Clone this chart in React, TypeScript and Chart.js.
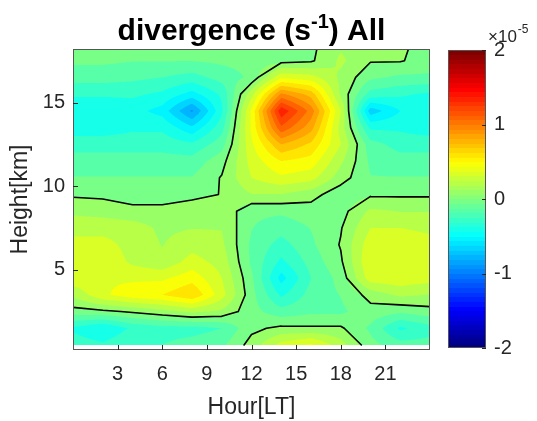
import React, { useEffect, useRef } from "react";
import { Chart, registerables } from "chart.js";

Chart.register(...registerables);

const FONT = "'Liberation Sans', Arial, Helvetica, sans-serif";

// Local time (h) of each grid column
const hours = [0, 2, 4, 6, 8, 10, 12, 14, 16, 18, 20, 22, 24];
// Height (km) of each grid row, top row first
const heights = [18.5, 17.5, 16.5, 15.5, 14.5, 13.5, 12.5, 11.5, 10.5, 9.5, 8.5, 7.5, 6.5, 5.5, 4.5, 3.5, 2.5, 1.5, 0.5];
// Divergence in units of 1e-5 s^-1, one row per height above, one column per hour
const divergence = [
  [-0.10, -0.10, -0.10, -0.10, -0.10, -0.10, -0.08, -0.06, -0.03, 0.10, 0.10, 0.03, -0.06],
  [-0.10, -0.10, -0.12, -0.12, -0.12, -0.10, -0.08, -0.05, -0.02, 0.15, 0.01, 0.01, -0.06],
  [-0.20, -0.20, -0.22, -0.25, -0.30, -0.20, -0.10, 0.35, 0.30, 0.10, -0.10, -0.15, -0.15],
  [-0.35, -0.35, -0.35, -0.40, -0.55, -0.35, 0.20, 0.90, 0.70, 0.10, -0.30, -0.35, -0.40],
  [-0.50, -0.50, -0.45, -0.55, -0.90, -0.40, 0.40, 1.35, 0.95, 0.25, -0.70, -0.50, -0.50],
  [-0.45, -0.45, -0.40, -0.40, -0.60, -0.30, 0.40, 1.10, 0.80, 0.20, -0.40, -0.40, -0.45],
  [-0.30, -0.30, -0.30, -0.30, -0.35, -0.18, 0.35, 0.75, 0.60, 0.25, -0.20, -0.30, -0.30],
  [-0.20, -0.20, -0.20, -0.20, -0.20, -0.05, 0.30, 0.50, 0.45, 0.15, -0.15, -0.20, -0.20],
  [-0.12, -0.12, -0.12, -0.12, -0.12, 0.01, 0.25, 0.35, 0.30, 0.06, -0.12, -0.12, -0.12],
  [-0.02, -0.03, -0.08, -0.08, -0.04, 0.005, 0.12, 0.12, 0.05, -0.08, -0.02, -0.02, -0.02],
  [0.10, 0.08, 0.05, 0.05, 0.08, 0.10, -0.10, -0.10, -0.06, -0.05, 0.15, 0.12, 0.12],
  [0.20, 0.20, 0.18, 0.10, 0.12, 0.12, -0.12, -0.20, -0.12, -0.01, 0.25, 0.25, 0.22],
  [0.30, 0.30, 0.20, 0.12, 0.20, 0.15, -0.15, -0.30, -0.15, 0.01, 0.33, 0.34, 0.30],
  [0.35, 0.36, 0.22, 0.15, 0.30, 0.20, -0.15, -0.40, -0.20, -0.02, 0.37, 0.36, 0.34],
  [0.34, 0.36, 0.35, 0.35, 0.45, 0.25, -0.10, -0.55, -0.25, -0.08, 0.32, 0.34, 0.30],
  [0.15, 0.35, 0.45, 0.50, 0.62, 0.30, -0.08, -0.40, -0.20, -0.12, 0.05, 0.15, 0.12],
  [-0.05, -0.03, 0.02, 0.08, 0.15, 0.10, -0.08, -0.20, -0.15, -0.15, -0.05, -0.10, -0.05],
  [-0.40, -0.50, -0.35, -0.30, -0.30, -0.25, -0.03, 0.03, 0.02, 0.02, -0.15, -0.40, -0.30],
  [-0.30, -0.35, -0.25, -0.25, -0.20, -0.15, 0.05, 0.30, 0.40, 0.18, -0.08, -0.20, -0.20],
];

const hourTicks = [3, 6, 9, 12, 15, 18, 21];
const heightTicks = [5, 10, 15];
const colorTicks = [-2, -1, 0, 1, 2];
const colorMin = -2;
const colorMax = 2;
const levelStep = 0.125;
const colorCount = 64;

// ascending-height views
const zAsc = heights.slice().reverse();
const vAsc = divergence.slice().reverse();

function jet(k: number): [number, number, number] {
  const t = k / (colorCount - 1);
  const f = (x: number) => Math.max(0, Math.min(1, 1.5 - Math.abs(x)));
  return [Math.round(f(4 * t - 3) * 255), Math.round(f(4 * t - 2) * 255), Math.round(f(4 * t - 1) * 255)];
}
const jetTable = Array.from({ length: colorCount }, (_, k) => jet(k));

function findCell(arr: number[], v: number) {
  let i = 0;
  while (i < arr.length - 2 && arr[i + 1] <= v) i++;
  return i;
}

function valueAt(h: number, z: number) {
  const i = findCell(hours, h);
  const j = findCell(zAsc, z);
  const tx = Math.max(0, Math.min(1, (h - hours[i]) / (hours[i + 1] - hours[i])));
  const ty = Math.max(0, Math.min(1, (z - zAsc[j]) / (zAsc[j + 1] - zAsc[j])));
  const a = vAsc[j][i], b = vAsc[j][i + 1], c = vAsc[j + 1][i + 1], d = vAsc[j + 1][i];
  return a * (1 - tx) * (1 - ty) + b * tx * (1 - ty) + c * tx * ty + d * (1 - tx) * ty;
}

function colorIndexFor(v: number) {
  const mid = (Math.floor(v / levelStep) + 0.5) * levelStep;
  const idx = Math.floor(((mid - colorMin) / (colorMax - colorMin)) * colorCount);
  return Math.max(0, Math.min(colorCount - 1, idx));
}

function zeroSegments() {
  const segs: [number, number, number, number][] = [];
  for (let j = 0; j < zAsc.length - 1; j++) {
    for (let i = 0; i < hours.length - 1; i++) {
      const pa: [number, number] = [hours[i], zAsc[j]];
      const pb: [number, number] = [hours[i + 1], zAsc[j]];
      const pc: [number, number] = [hours[i + 1], zAsc[j + 1]];
      const pd: [number, number] = [hours[i], zAsc[j + 1]];
      const a = vAsc[j][i], b = vAsc[j][i + 1], c = vAsc[j + 1][i + 1], d = vAsc[j + 1][i];
      const cross = (v1: number, v2: number, p1: [number, number], p2: [number, number]) => {
        if (v1 > 0 === v2 > 0) return null;
        const t = v1 / (v1 - v2);
        return [p1[0] + t * (p2[0] - p1[0]), p1[1] + t * (p2[1] - p1[1])] as [number, number];
      };
      const eb = cross(a, b, pa, pb);
      const er = cross(b, c, pb, pc);
      const et = cross(d, c, pd, pc);
      const el = cross(a, d, pa, pd);
      const pts = [eb, er, et, el].filter((p) => p) as [number, number][];
      if (pts.length === 2) {
        segs.push([pts[0][0], pts[0][1], pts[1][0], pts[1][1]]);
      } else if (pts.length === 4) {
        const center = (a + b + c + d) / 4;
        if (center > 0 === a > 0) {
          segs.push([eb![0], eb![1], er![0], er![1]]);
          segs.push([et![0], et![1], el![0], el![1]]);
        } else {
          segs.push([eb![0], eb![1], el![0], el![1]]);
          segs.push([er![0], er![1], et![0], et![1]]);
        }
      }
    }
  }
  return segs;
}

const contourPlugin = {
  id: "contourFill",
  beforeDatasetsDraw(chart: any) {
    const { ctx, chartArea: area } = chart;
    const xs = chart.scales.x;
    const ys = chart.scales.y;
    const left = Math.round(area.left), top = Math.round(area.top);
    const w = Math.round(area.right) - left;
    const hgt = Math.round(area.bottom) - top;
    const off = document.createElement("canvas");
    off.width = w;
    off.height = hgt;
    const octx = off.getContext("2d")!;
    const img = octx.createImageData(w, hgt);
    const zMin = zAsc[0], zMax = zAsc[zAsc.length - 1];
    const ss = [0.25, 0.75];
    for (let py = 0; py < hgt; py++) {
      for (let px = 0; px < w; px++) {
        let r = 0, g = 0, bl = 0, al = 0;
        for (const sy of ss) {
          const z = ys.getValueForPixel(top + py + sy);
          for (const sx of ss) {
            if (z < zMin || z > zMax) continue;
            const h = xs.getValueForPixel(left + px + sx);
            const col = jetTable[colorIndexFor(valueAt(h, z))];
            r += col[0]; g += col[1]; bl += col[2]; al += 1;
          }
        }
        const o = (py * w + px) * 4;
        if (al > 0) {
          const wgt = al / 4;
          img.data[o] = Math.round((r / al) * wgt + 255 * (1 - wgt));
          img.data[o + 1] = Math.round((g / al) * wgt + 255 * (1 - wgt));
          img.data[o + 2] = Math.round((bl / al) * wgt + 255 * (1 - wgt));
          img.data[o + 3] = 255;
        } else {
          img.data[o + 3] = 0;
        }
      }
    }
    octx.putImageData(img, 0, 0);
    ctx.drawImage(off, left, top);

    // zero contour
    ctx.save();
    ctx.beginPath();
    ctx.rect(area.left, area.top, area.right - area.left, area.bottom - area.top);
    ctx.clip();
    ctx.strokeStyle = "#000";
    ctx.lineWidth = 1.6;
    ctx.lineCap = "round";
    ctx.lineJoin = "round";
    ctx.beginPath();
    for (const s of zeroSegments()) {
      ctx.moveTo(xs.getPixelForValue(s[0]), ys.getPixelForValue(s[1]));
      ctx.lineTo(xs.getPixelForValue(s[2]), ys.getPixelForValue(s[3]));
    }
    ctx.stroke();
    ctx.restore();
  },
  afterDraw(chart: any) {
    const { ctx, chartArea: area } = chart;
    const xs = chart.scales.x;
    const ys = chart.scales.y;
    ctx.save();
    ctx.strokeStyle = "#555";
    ctx.lineWidth = 1;
    ctx.strokeRect(Math.round(area.left) + 0.5, Math.round(area.top) + 0.5, Math.round(area.right - area.left) - 1, Math.round(area.bottom - area.top) - 1);
    ctx.strokeStyle = "#262626";
    ctx.beginPath();
    for (const v of hourTicks) {
      const x = Math.round(xs.getPixelForValue(v)) + 0.5;
      ctx.moveTo(x, area.bottom);
      ctx.lineTo(x, area.bottom - 5);
    }
    for (const v of heightTicks) {
      const y = Math.round(ys.getPixelForValue(v)) + 0.5;
      ctx.moveTo(area.left, y);
      ctx.lineTo(area.left + 5, y);
    }
    ctx.stroke();
    // title with superscript
    const big = `bold 30px ${FONT}`;
    const small = `bold 20px ${FONT}`;
    const parts: [string, string, number][] = [
      ["divergence (s", big, 0],
      ["-1", small, -12],
      [") All", big, 0],
    ];
    let total = 0;
    for (const p of parts) {
      ctx.font = p[1];
      total += ctx.measureText(p[0]).width;
    }
    let x = (area.left + area.right) / 2 - total / 2;
    ctx.fillStyle = "#000";
    ctx.textBaseline = "alphabetic";
    ctx.textAlign = "left";
    for (const p of parts) {
      ctx.font = p[1];
      ctx.fillText(p[0], x, 40 + p[2]);
      x += ctx.measureText(p[0]).width;
    }
    ctx.restore();
  },
};

const colorbarPlugin = {
  id: "colorbarFill",
  beforeDatasetsDraw(chart: any) {
    const { ctx, chartArea: area } = chart;
    const ys = chart.scales.y;
    for (let k = 0; k < colorCount; k++) {
      const v0 = colorMin + (k * (colorMax - colorMin)) / colorCount;
      const v1 = colorMin + ((k + 1) * (colorMax - colorMin)) / colorCount;
      const y0 = ys.getPixelForValue(v0);
      const y1 = ys.getPixelForValue(v1);
      const c = jetTable[k];
      ctx.fillStyle = `rgb(${c[0]},${c[1]},${c[2]})`;
      ctx.fillRect(area.left, Math.floor(y1), area.right - area.left, Math.ceil(y0) - Math.floor(y1));
    }
  },
  afterDraw(chart: any) {
    const { ctx, chartArea: area } = chart;
    const ys = chart.scales.y;
    ctx.save();
    ctx.strokeStyle = "#555";
    ctx.lineWidth = 1;
    ctx.strokeRect(Math.round(area.left) + 0.5, Math.round(area.top) + 0.5, Math.round(area.right - area.left) - 1, Math.round(area.bottom - area.top) - 1);
    ctx.strokeStyle = "#262626";
    ctx.beginPath();
    for (const v of colorTicks) {
      const y = Math.round(ys.getPixelForValue(v)) + 0.5;
      ctx.moveTo(area.right, y);
      ctx.lineTo(area.right - 4, y);
    }
    ctx.stroke();
    // exponent label
    ctx.fillStyle = "#262626";
    ctx.textBaseline = "alphabetic";
    ctx.textAlign = "left";
    ctx.font = `17px ${FONT}`;
    const base = "\u00d710";
    const x0 = area.right + 2;
    ctx.fillText(base, x0, 42);
    const bw = ctx.measureText(base).width;
    ctx.font = `12px ${FONT}`;
    ctx.fillText("-5", x0 + bw + 1, 33);
    ctx.restore();
  },
};

export default function App() {
  const mainRef = useRef<HTMLCanvasElement>(null);
  const cbRef = useRef<HTMLCanvasElement>(null);

  useEffect(() => {
    const tickFont = { family: FONT, size: 20 };
    const main = new Chart(mainRef.current!, {
      type: "scatter",
      data: { datasets: [{ data: [], pointRadius: 0 }] },
      options: {
        animation: false,
        responsive: false,
        devicePixelRatio: 1,
        layout: { padding: { top: 49, right: 10, left: 0, bottom: 0 } },
        plugins: { legend: { display: false }, tooltip: { enabled: false }, title: { display: false } },
        scales: {
          x: {
            type: "linear",
            position: "bottom",
            min: 0,
            max: 24,
            grid: { display: false, drawTicks: false, tickLength: 0 },
            border: { display: false },
            ticks: { font: tickFont, color: "#262626", padding: 12, maxRotation: 0, autoSkip: false },
            title: { display: true, text: "Hour[LT]", font: { family: FONT, size: 23 }, color: "#262626", padding: { top: 0, bottom: 0 } },
            afterBuildTicks: (axis: any) => {
              axis.ticks = hourTicks.map((v) => ({ value: v }));
            },
            afterFit: (axis: any) => {
              axis.height = 71;
            },
          },
          y: {
            type: "linear",
            position: "left",
            min: 0.2,
            max: 18.2,
            grid: { display: false, drawTicks: false, tickLength: 0 },
            border: { display: false },
            ticks: { font: tickFont, color: "#262626", padding: 8, autoSkip: false },
            title: { display: true, text: "Height[km]", font: { family: FONT, size: 23 }, color: "#262626", padding: { top: 7, bottom: 0 } },
            afterBuildTicks: (axis: any) => {
              axis.ticks = heightTicks.map((v) => ({ value: v }));
            },
            afterFit: (axis: any) => {
              axis.width = 73;
            },
          },
        },
      },
      plugins: [contourPlugin],
    } as any);

    const cb = new Chart(cbRef.current!, {
      type: "scatter",
      data: { datasets: [{ data: [], pointRadius: 0 }] },
      options: {
        animation: false,
        responsive: false,
        devicePixelRatio: 1,
        layout: { padding: { top: 50, right: 0, left: 8, bottom: 73 } },
        plugins: { legend: { display: false }, tooltip: { enabled: false } },
        scales: {
          x: { type: "linear", display: false, min: 0, max: 1 },
          y: {
            type: "linear",
            position: "right",
            min: colorMin,
            max: colorMax,
            grid: { display: false, drawTicks: false, tickLength: 0 },
            border: { display: false },
            ticks: { font: tickFont, color: "#262626", padding: 8, autoSkip: false },
            afterBuildTicks: (axis: any) => {
              axis.ticks = colorTicks.map((v) => ({ value: v }));
            },
            afterFit: (axis: any) => {
              axis.width = 51;
            },
          },
        },
      },
      plugins: [colorbarPlugin],
    } as any);

    return () => {
      main.destroy();
      cb.destroy();
    };
  }, []);

  return (
    <div style={{ position: "absolute", left: 0, top: 0, width: 537, height: 421, background: "#fff" }}>
      <canvas ref={mainRef} width={440} height={421} style={{ position: "absolute", left: 0, top: 0, width: 440, height: 421 }} />
      <canvas ref={cbRef} width={97} height={421} style={{ position: "absolute", left: 440, top: 0, width: 97, height: 421 }} />
    </div>
  );
}
